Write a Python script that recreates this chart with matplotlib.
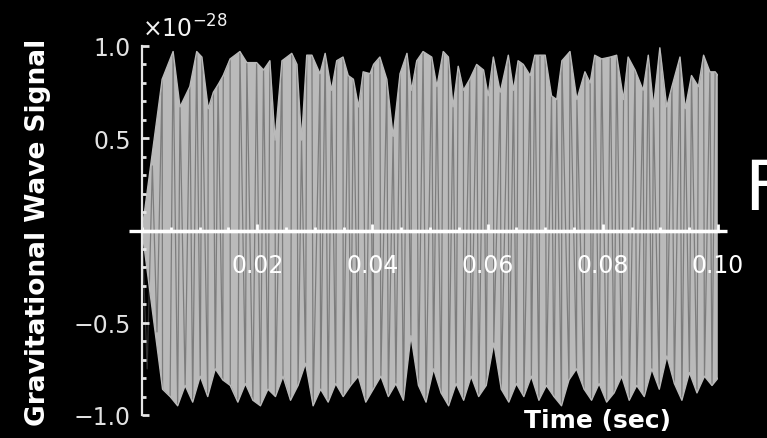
import numpy as np
import matplotlib
matplotlib.use('Agg')
import matplotlib.pyplot as plt
from matplotlib.ticker import FixedLocator, MultipleLocator

# signal peaks (time in ms, signal in units of 1e-28)
t_start = [0.0, 0.9, 1.8, 2.6]
h_start = [0.0, -0.75, 0.35, -0.55]

t_up = [3.5, 5.4, 6.6, 8.3, 9.5, 10.4, 11.5, 12.4, 13.2, 14.1, 15.3, 17.0, 18.2, 19.9,
        21.1, 22.2, 23.1, 24.3, 26.0, 26.9, 27.7, 28.6, 29.5, 30.9, 31.8, 32.9, 33.8,
        34.9, 35.8, 36.7, 37.6, 38.4, 39.6, 40.2, 41.3, 42.5, 43.6, 44.8, 46.0, 46.8,
        47.7, 48.8, 50.3, 51.2, 52.3, 53.2, 54.0, 54.9, 55.8, 56.9, 58.1, 59.3, 60.1,
        61.0, 62.2, 63.6, 64.5, 65.3, 66.2, 67.4, 68.2, 69.1, 70.0, 71.1, 72.0, 72.9,
        74.3, 75.5, 76.9, 77.8, 78.6, 79.8, 81.3, 82.4, 83.6, 84.4, 85.6, 87.0, 87.9,
        88.8, 89.9, 91.1, 92.0, 93.4, 94.3, 95.4, 96.6, 97.5, 98.6, 99.5, 100.0]
h_up = [0.82, 0.97, 0.67, 0.78, 0.97, 0.94, 0.66, 0.75, 0.79, 0.84, 0.93, 0.97, 0.91, 0.91,
        0.87, 0.92, 0.49, 0.92, 0.96, 0.90, 0.49, 0.95, 0.95, 0.85, 0.96, 0.76, 0.92,
        0.94, 0.84, 0.82, 0.67, 0.86, 0.85, 0.90, 0.94, 0.82, 0.51, 0.85, 0.96, 0.76,
        0.92, 0.97, 0.94, 0.78, 0.97, 0.94, 0.67, 0.89, 0.76, 0.82, 0.90, 0.87, 0.73,
        0.94, 0.75, 0.95, 0.76, 0.92, 0.90, 0.84, 0.95, 0.95, 0.95, 0.73, 0.71, 0.92,
        0.97, 0.71, 0.86, 0.80, 0.95, 0.93, 0.94, 0.95, 0.71, 0.94, 0.87, 0.76, 0.95,
        0.67, 0.99, 0.67, 0.78, 0.94, 0.66, 0.84, 0.78, 0.95, 0.86, 0.86, 0.84]

t_low = [3.57, 4.88, 6.19, 7.49, 8.80, 10.11, 11.41, 12.72, 14.03, 15.33, 16.64, 17.95,
         19.25, 20.56, 21.87, 23.17, 24.48, 25.79, 27.09, 28.40, 29.71, 31.01, 32.32,
         33.63, 34.93, 36.24, 37.55, 38.85, 40.16, 41.47, 42.77, 44.08, 45.39, 46.69,
         48.00, 49.31, 50.61, 51.92, 53.23, 54.53, 55.84, 57.15, 58.45, 59.76, 61.07,
         62.37, 63.68, 64.99, 66.29, 67.60, 68.91, 70.21, 71.52, 72.83, 74.13, 75.44,
         76.75, 78.05, 79.36, 80.67, 81.97, 83.28, 84.59, 85.89, 87.20, 88.51, 89.81,
         91.12, 92.43, 93.73, 95.04, 96.35, 97.65, 98.96, 100.0]
h_low = [-0.86, -0.90, -0.95, -0.84, -0.93, -0.79, -0.90, -0.75, -0.81, -0.84, -0.93, -0.83,
         -0.92, -0.95, -0.86, -0.90, -0.79, -0.92, -0.84, -0.72, -0.95, -0.86, -0.93,
         -0.83, -0.90, -0.84, -0.79, -0.93, -0.86, -0.79, -0.90, -0.83, -0.92, -0.57,
         -0.84, -0.93, -0.75, -0.88, -0.95, -0.83, -0.92, -0.79, -0.90, -0.84, -0.61,
         -0.86, -0.93, -0.83, -0.90, -0.79, -0.92, -0.84, -0.90, -0.95, -0.81, -0.75,
         -0.86, -0.92, -0.83, -0.93, -0.88, -0.79, -0.92, -0.84, -0.90, -0.75, -0.86,
         -0.68, -0.83, -0.92, -0.77, -0.88, -0.79, -0.84, -0.80]

x_ticks = [0.02, 0.04, 0.06, 0.08, 0.10]
x_labels = ['0.02', '0.04', '0.06', '0.08', '0.10']
y_ticks = [-1.0, -0.5, 0.5, 1.0]
y_labels = ['\u22121.0', '\u22120.5', '0.5', '1.0']

ms = 1e-3
tu = np.array(t_start[:1] + t_up) * ms
hu = np.array(h_start[:1] + h_up)
tl = np.array(t_start[:1] + t_low) * ms
hl = np.array(h_start[:1] + h_low)

# zig-zag through all peaks, for the streaks
t_all = np.concatenate([t_start, t_up, t_low]) * ms
h_all = np.concatenate([h_start, h_up, h_low])
order = np.argsort(t_all, kind='stable')
t_all, h_all = t_all[order], h_all[order]

W, H = 767, 439
fig = plt.figure(figsize=(W / 100, H / 100), dpi=100, facecolor='black')
ax = fig.add_axes([142 / W, (H - 416) / H, 576 / W, 369 / H], facecolor='black')
ax.set_axisbelow(False)

# envelope of the oscillation
ax.fill(np.concatenate([tu, tl[::-1]]), np.concatenate([hu, hl[::-1]]),
        color='#bababa', lw=0, zorder=1)
ax.plot(t_start, h_start, color='#bababa', lw=1.5, zorder=1)
ax.plot(t_all, h_all, color='#555555', lw=0.9, alpha=0.6, zorder=1.2)
ax.plot(tu, hu, color='#bababa', lw=1.0, zorder=1.3)
ax.plot(tl, hl, color='#bababa', lw=1.0, zorder=1.3)

ax.set_xlim(0, 0.1)
ax.set_ylim(-1, 1)

for s in ['top', 'right']:
    ax.spines[s].set_visible(False)
ax.spines['left'].set_color('#e6e6e6')
ax.spines['left'].set_linewidth(1.6)
ax.spines['left'].set_zorder(4)
ax.spines['bottom'].set_position(('data', 0))
ax.spines['bottom'].set_color('white')
ax.spines['bottom'].set_linewidth(2.4)
ax.spines['bottom'].set_zorder(4)
# axis line runs a bit past both ends
ax.plot([-0.0022, 0.1015], [0, 0], color='white', lw=2.4, clip_on=False, zorder=4,
        solid_capstyle='butt')

ax.xaxis.set_major_locator(FixedLocator(x_ticks))
ax.set_xticklabels(x_labels)
ax.xaxis.set_minor_locator(MultipleLocator(0.005))
ax.yaxis.set_major_locator(FixedLocator(y_ticks))
ax.set_yticklabels(y_labels)
ax.yaxis.set_minor_locator(MultipleLocator(0.1))

ax.tick_params(axis='x', which='major', direction='in', length=5, width=2, color='white',
               pad=16, labelsize=17, labelcolor='white')
ax.tick_params(axis='x', which='minor', direction='in', length=3, width=2, color='white')
ax.tick_params(axis='y', which='major', direction='in', length=5, width=2, color='#e6e6e6',
               pad=8, labelsize=17, labelcolor='#e2e2e2')
ax.tick_params(axis='y', which='minor', direction='in', length=3, width=2, color='#e6e6e6')

fig.text(142 / W, (H - 38) / H, r'$\times10^{-28}$', color='#f2f2f2', fontsize=17,
         ha='left', va='baseline')
fig.text(38 / W, (H - 232) / H, 'Gravitational Wave Signal', color='white', fontsize=19,
         fontweight='bold', rotation=90, ha='center', va='center')
fig.text(598 / W, (H - 421) / H, 'Time (sec)', color='white', fontsize=18,
         fontweight='bold', ha='center', va='center')
fig.text(744 / W, (H - 210) / H, 'F', color='white', fontsize=50, ha='left', va='baseline')

fig.savefig('out.png', dpi=100, facecolor='black')
